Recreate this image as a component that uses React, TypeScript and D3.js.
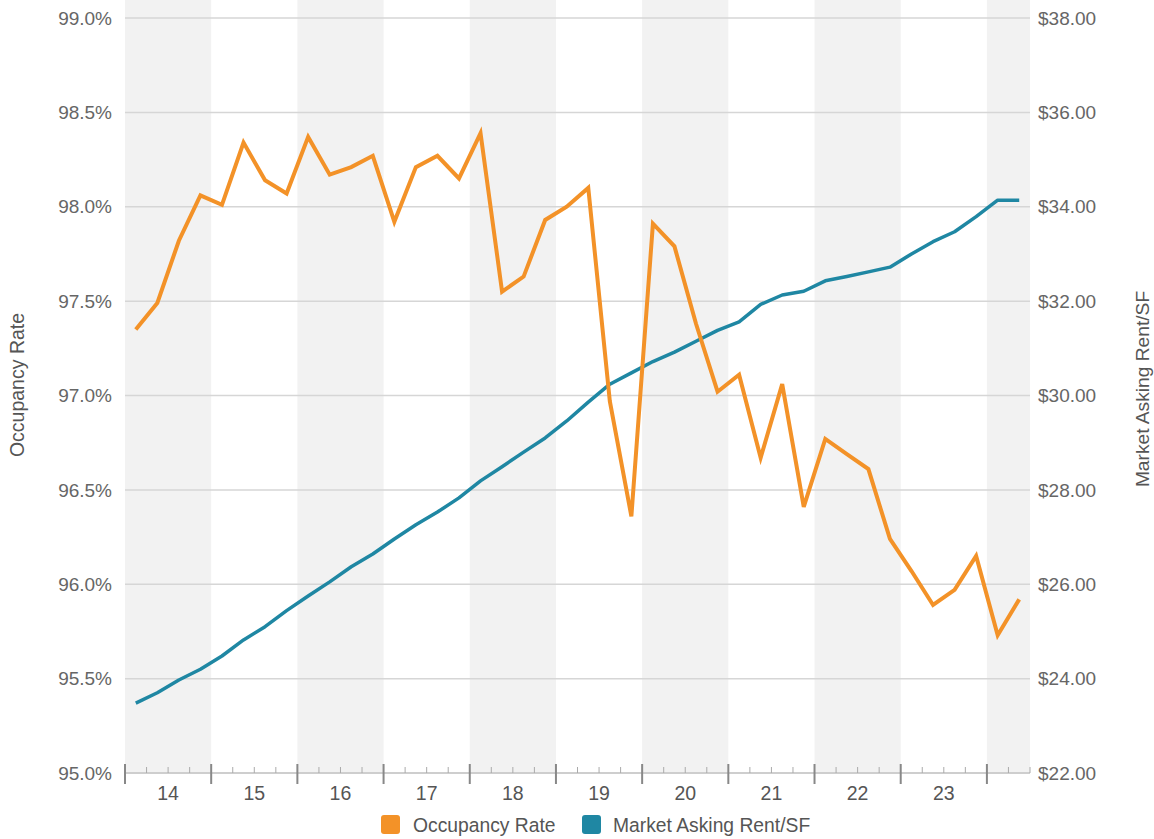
import React from "react";
import * as d3 from "d3";

const quarters: string[] = [
  "2014Q1","2014Q2","2014Q3","2014Q4",
  "2015Q1","2015Q2","2015Q3","2015Q4",
  "2016Q1","2016Q2","2016Q3","2016Q4",
  "2017Q1","2017Q2","2017Q3","2017Q4",
  "2018Q1","2018Q2","2018Q3","2018Q4",
  "2019Q1","2019Q2","2019Q3","2019Q4",
  "2020Q1","2020Q2","2020Q3","2020Q4",
  "2021Q1","2021Q2","2021Q3","2021Q4",
  "2022Q1","2022Q2","2022Q3","2022Q4",
  "2023Q1","2023Q2","2023Q3","2023Q4",
  "2024Q1","2024Q2",
];

const occupancy: number[] = [
  97.35, 97.49, 97.82, 98.06, 98.01, 98.34, 98.14, 98.07,
  98.37, 98.17, 98.21, 98.27, 97.92, 98.21, 98.27, 98.15,
  98.39, 97.55, 97.63, 97.93, 98.0, 98.1, 96.97, 96.36,
  97.91, 97.79, 97.38, 97.02, 97.11, 96.67, 97.06, 96.41,
  96.77, 96.69, 96.61, 96.24, 96.07, 95.89, 95.97, 96.15,
  95.73, 95.92,
];

const rent: number[] = [
  23.48, 23.7, 23.97, 24.2, 24.48, 24.82, 25.1, 25.44,
  25.75, 26.05, 26.37, 26.64, 26.96, 27.26, 27.53, 27.83,
  28.19, 28.49, 28.8, 29.1, 29.46, 29.86, 30.24, 30.48,
  30.72, 30.92, 31.15, 31.38, 31.56, 31.93, 32.13, 32.21,
  32.43, 32.52, 32.62, 32.72, 33.0, 33.26, 33.47, 33.79,
  34.14, 34.14,
];

const years: string[] = ["2014","2015","2016","2017","2018","2019","2020","2021","2022","2023","2024"];
const yearLabels: string[] = ["14","15","16","17","18","19","20","21","22","23",""];
const leftTicks: number[] = [95.0, 95.5, 96.0, 96.5, 97.0, 97.5, 98.0, 98.5, 99.0];
const rightTicks: number[] = [22, 24, 26, 28, 30, 32, 34, 36, 38];

const seriesNames = ["Occupancy Rate", "Market Asking Rent/SF"];
const ORANGE = "#f39228";
const BLUE = "#1f87a3";
const FONT = "'Liberation Sans', Arial, Helvetica, sans-serif";

export default function App() {
  const W = 1154, H = 839;
  const left = 125, right = 1030, top = 18, bottom = 773;

  const x = d3.scaleBand<string>().domain(quarters).range([left, right]).paddingInner(0).paddingOuter(0);
  const yL = d3.scaleLinear().domain([95, 99]).range([bottom, top]);
  const yR = d3.scaleLinear().domain([22, 38]).range([bottom, top]);
  const step = x.step();

  const cx = (q: string) => (x(q) as number) + step / 2;

  const occLine = d3.line<number>().x((_, i) => cx(quarters[i])).y((d) => yL(d));
  const rentLine = d3.line<number>().x((_, i) => cx(quarters[i])).y((d) => yR(d));

  const yearStart = (y: string) => x(y + "Q1") as number;
  const yearEnd = (y: string) => {
    const qs = quarters.filter((q) => q.startsWith(y));
    return (x(qs[qs.length - 1]) as number) + step;
  };

  return (
    <svg width={W} height={H} style={{ position: "absolute", left: 0, top: 0, fontFamily: FONT }}>
      {years.map((y, i) =>
        i % 2 === 0 ? (
          <rect key={y} x={yearStart(y)} y={0} width={yearEnd(y) - yearStart(y)} height={bottom} fill="#f2f2f2" />
        ) : null
      )}
      {leftTicks.map((t) => (
        <line key={t} x1={left} x2={right} y1={yL(t)} y2={yL(t)} stroke="#d6d6d6" strokeWidth={1.5} />
      ))}
      {leftTicks.map((t) => (
        <text key={"l" + t} x={112} y={yL(t)} dy="0.35em" textAnchor="end" fontSize={19} fill="#666">
          {d3.format(".1f")(t) + "%"}
        </text>
      ))}
      {rightTicks.map((t) => (
        <text key={"r" + t} x={1038} y={yR(t)} dy="0.35em" textAnchor="start" fontSize={19} fill="#666">
          {d3.format("$.2f")(t)}
        </text>
      ))}
      {/* x axis */}
      <line x1={left} x2={right} y1={bottom} y2={bottom} stroke="#c8c8c8" strokeWidth={1.5} />
      {quarters.map((q) => (
        <line
          key={"t" + q}
          x1={x(q) as number}
          x2={x(q) as number}
          y1={q.endsWith("Q1") ? bottom - 9 : bottom - 6}
          y2={q.endsWith("Q1") ? bottom + 11 : bottom}
          stroke={q.endsWith("Q1") ? "#888" : "#aaa"}
          strokeWidth={q.endsWith("Q1") ? 2 : 1}
        />
      ))}
      <line x1={right} x2={right} y1={bottom - 6} y2={bottom} stroke="#aaa" strokeWidth={1} />
      {years.map((y, i) => (
        <text key={"x" + y} x={(yearStart(y) + yearEnd(y)) / 2} y={800} textAnchor="middle" fontSize={19.5} fill="#555">
          {yearLabels[i]}
        </text>
      ))}
      {/* lines */}
      <path d={rentLine(rent) || ""} fill="none" stroke={BLUE} strokeWidth={3.5} strokeLinejoin="round" />
      <path d={occLine(occupancy) || ""} fill="none" stroke={ORANGE} strokeWidth={4} strokeLinejoin="miter" />
      {/* axis titles */}
      <text transform="translate(24,385) rotate(-90)" textAnchor="middle" fontSize={19.5} fill="#555">
        {seriesNames[0]}
      </text>
      <text transform="translate(1149,389) rotate(-90)" textAnchor="middle" fontSize={19.2} fill="#555">
        {seriesNames[1]}
      </text>
      {/* legend */}
      <rect x={381} y={815} width={19} height={19} rx={3} fill={ORANGE} />
      <text x={413} y={832} fontSize={19.3} fill="#555">{seriesNames[0]}</text>
      <rect x={582} y={815} width={19} height={19} rx={3} fill={BLUE} />
      <text x={613} y={832} fontSize={19.3} fill="#555">{seriesNames[1]}</text>
    </svg>
  );
}
